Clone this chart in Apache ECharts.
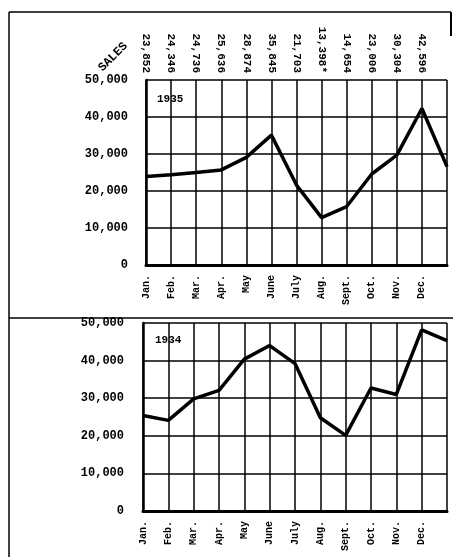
<!DOCTYPE html>
<html>
<head>
<meta charset="utf-8">
<script src="https://cdn.jsdelivr.net/npm/echarts@6/dist/echarts.min.js"></script>
<style>
html,body{margin:0;padding:0;background:#fff;}
#chart{width:453px;height:557px;}
</style>
</head>
<body>
<div id="chart"></div>
<script>
// Month categories (13th position is the unlabeled right edge)
const months = ['Jan.','Feb.','Mar.','Apr.','May','June','July','Aug.','Sept.','Oct.','Nov.','Dec.',''];
// Sales figures typed along the top of the 1935 chart
const salesLabels1935 = ['23,852','24,346','24,736','25,636','28,874','35,845','21,703','13,398*','14,654','23,006','30,304','42,596',''];
// Values
const sales1935 = [23900, 24400, 25000, 25700, 29100, 35100, 21600, 12800, 15800, 24600, 29700, 42300, 26600];
const sales1934 = [25400, 24100, 29800, 32100, 40400, 44000, 39200, 24800, 20100, 32700, 31000, 48200, 45300];
// Y tick labels
const yTickLabels = ['0','10,000','20,000','30,000','40,000','50,000'];

const FONT = '"Liberation Mono", "DejaVu Sans Mono", monospace';
const chart = echarts.init(document.getElementById('chart'), null, {renderer:'canvas'});

function monthAxis(gridIndex){
  return {
    type:'category', gridIndex, data: months, boundaryGap:false,
    axisLine:{show:true, lineStyle:{color:'#000', width:3}},
    axisTick:{show:false},
    axisLabel:{interval:0, rotate:90, margin:10, color:'#000', fontFamily:FONT, fontWeight:'bold', fontSize:10},
    splitLine:{show:true, interval:0, lineStyle:{color:'#000', width:1.5}}
  };
}
function valAxis(gridIndex, margin){
  return {
    type:'value', gridIndex, min:0, max:50000, interval:10000,
    axisLine:{show:true, lineStyle:{color:'#000', width:2.5}},
    axisTick:{show:false},
    axisLabel:{margin, color:'#000', fontFamily:FONT, fontWeight:'bold', fontSize:12,
      formatter: v => yTickLabels[Math.round(v/10000)]},
    splitLine:{show:true, lineStyle:{color:'#000', width:1.5}}
  };
}

const option = {
  backgroundColor:'#fff',
  animation:false,
  grid:[
    {left:146, right:6, top:80, height:185},
    {left:143, right:6, top:323, height:188}
  ],
  xAxis:[
    monthAxis(0),
    {
      type:'category', gridIndex:0, position:'top', data: salesLabels1935, boundaryGap:false,
      axisLine:{show:false}, axisTick:{show:false}, splitLine:{show:false},
      axisLabel:{interval:0, rotate:90, margin:7, color:'#000', fontFamily:FONT, fontWeight:'bold', fontSize:11}
    },
    monthAxis(1)
  ],
  yAxis:[ valAxis(0, 18), valAxis(1, 19) ],
  series:[
    {type:'line', xAxisIndex:0, yAxisIndex:0, data:sales1935, symbol:'none',
      lineStyle:{color:'#000', width:3.5}},
    {type:'line', xAxisIndex:2, yAxisIndex:1, data:sales1934, symbol:'none',
      lineStyle:{color:'#000', width:3.5}}
  ],
  graphic:[
    {type:'line', shape:{x1:9, y1:12, x2:451, y2:12}, style:{stroke:'#000', lineWidth:1.5}},
    {type:'line', shape:{x1:9, y1:12, x2:9, y2:557}, style:{stroke:'#000', lineWidth:1.5}},
    {type:'line', shape:{x1:451, y1:12, x2:451, y2:36}, style:{stroke:'#000', lineWidth:2}},
    {type:'line', shape:{x1:9, y1:318, x2:453, y2:318}, style:{stroke:'#000', lineWidth:1.5}},
    {type:'text', x:113, y:57, rotation:Math.PI/4,
      style:{text:'SALES', fill:'#000', font:'bold 12px ' + FONT, textAlign:'center', textVerticalAlign:'middle'}},
    {type:'text', x:156, y:93,
      style:{text:'1935', fill:'#000', font:'bold 11px ' + FONT, backgroundColor:'#fff', padding:[1,1]}},
    {type:'text', x:154, y:334,
      style:{text:'1934', fill:'#000', font:'bold 11px ' + FONT, backgroundColor:'#fff', padding:[1,1]}}
  ]
};
chart.setOption(option);
</script>
</body>
</html>
